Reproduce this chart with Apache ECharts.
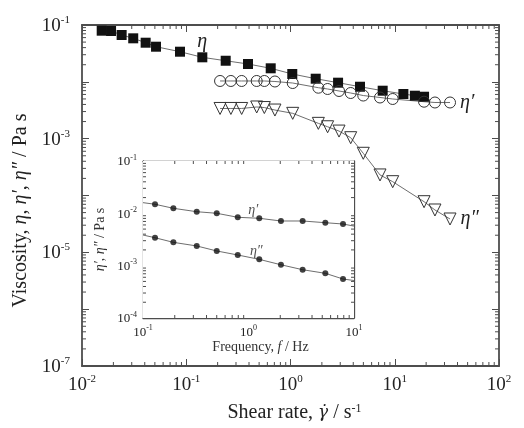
<!DOCTYPE html>
<html><head><meta charset="utf-8">
<script src="https://cdn.jsdelivr.net/npm/echarts@6/dist/echarts.min.js"></script>
<style>html,body{margin:0;padding:0;background:#fff}#c{width:524px;height:428px}</style>
</head><body><div id="c"></div>
<script>
// ---- main chart data (shear rate in s^-1, viscosity in Pa s) ----
const etaShear = [0.01545, 0.019, 0.024, 0.031, 0.0408, 0.0513, 0.0871, 0.1426, 0.239, 0.391, 0.646, 1.04, 1.745, 2.86, 4.64, 7.66, 12.1, 15.6, 19.1];
const etaVals  = [0.0794, 0.0784, 0.0667, 0.0583, 0.0488, 0.0415, 0.0339, 0.027, 0.0235, 0.0206, 0.0173, 0.01374, 0.01135, 0.00966, 0.0082, 0.00698, 0.00611, 0.0057, 0.00547];
const dynShear = [0.211, 0.268, 0.34, 0.474, 0.561, 0.709, 1.05, 1.85, 2.27, 2.92, 3.78, 4.99, 7.22, 9.56, 19.1, 24.3, 33.9];
const etaPrimeVals = [0.01035, 0.01035, 0.01035, 0.01035, 0.01035, 0.01014, 0.00953, 0.00788, 0.00748, 0.0069, 0.00636, 0.00574, 0.0053, 0.00499, 0.00447, 0.00433, 0.00433];
const etaDoublePrimeVals = [0.0034, 0.0034, 0.0034, 0.00361, 0.00353, 0.00319, 0.00279, 0.00186, 0.00162, 0.00136, 0.00104, 0.000553, 0.00023, 0.000175, 7.78e-5, 5.56e-5, 3.86e-5];
// ---- inset data (frequency in Hz) ----
const insetFreq = [0.13, 0.194, 0.323, 0.5, 0.791, 1.265, 2.03, 3.26, 5.35, 7.87];
const insetEtaPrime = [0.0149, 0.01248, 0.01074, 0.01002, 0.0084, 0.00804, 0.00714, 0.00714, 0.00662, 0.00625];
const insetEtaDoublePrime = [0.00342, 0.00279, 0.00238, 0.00191, 0.0016, 0.00132, 0.00104, 0.000837, 0.000714, 0.000556];
const insetEdgeFreq = [0.1, 10];
const insetEdgeEtaPrime = [0.016, 0.0057];
const insetEdgeEtaDoublePrime = [0.00385, 0.00052];
// ---- axis ranges (decade exponents) ----
const mainXExp = [-2, 2];
const mainYExp = [-7, -1];
const insetXExp = [-1, 1];
const insetYExp = [-4, -1];

const FONT = 'Liberation Serif';
const FRAME = '#4d4d4d';
const LINE = '#6e6e6e';

function pairs(xs, ys) { return xs.map((x, i) => [x, ys[i]]); }
function minorValues(exp) {
  const out = [];
  for (let d = exp[0]; d < exp[1]; d++) for (let m = 2; m <= 9; m++) out.push(m * Math.pow(10, d));
  return out;
}
function expOf(v) { return Math.round(Math.log10(v)); }
function powLabel(oddOnly) {
  return function (v) {
    const e = expOf(v);
    if (oddOnly && Math.abs(e) % 2 === 0) return '';
    return '{b|10}{s|' + e + '}';
  };
}
function richFor(size) {
  return {
    b: { fontFamily: FONT, fontSize: size, color: '#222', lineHeight: size + 2, verticalAlign: 'bottom' },
    s: { fontFamily: FONT, fontSize: Math.round(size * 0.6), color: '#222', lineHeight: Math.round(size * 0.6), verticalAlign: 'top' }
  };
}
function logAxis(opts) {
  const o = Object.assign({
    type: 'log', logBase: 10, interval: 1,
    axisLine: { show: true, lineStyle: { color: FRAME, width: opts.frameW || 1.8 } },
    axisTick: { show: true, inside: true, length: opts.tickLen || 7, lineStyle: { color: FRAME, width: 1 } },
    splitLine: { show: false },
    axisLabel: { show: false }
  }, opts);
  delete o.frameW; delete o.tickLen;
  return o;
}
function minorTickSeries(xi, yi, axis, values, ref, len) {
  return {
    type: 'custom', xAxisIndex: xi, yAxisIndex: yi, clip: false, silent: true, z: 4,
    data: values.map(v => axis === 'x' ? [v, ref] : [ref, v]),
    renderItem: function (params, api) {
      const cs = params.coordSys;
      const p = api.coord([api.value(0), api.value(1)]);
      const st = { stroke: FRAME, lineWidth: 1 };
      if (axis === 'x') {
        const x = p[0], yb = cs.y + cs.height, yt = cs.y;
        return { type: 'group', children: [
          { type: 'line', shape: { x1: x, y1: yb, x2: x, y2: yb - len }, style: st },
          { type: 'line', shape: { x1: x, y1: yt, x2: x, y2: yt + len }, style: st }
        ] };
      } else {
        const y = p[1], xl = cs.x, xr = cs.x + cs.width;
        return { type: 'group', children: [
          { type: 'line', shape: { x1: xl, y1: y, x2: xl + len, y2: y }, style: st },
          { type: 'line', shape: { x1: xr, y1: y, x2: xr - len, y2: y }, style: st }
        ] };
      }
    }
  };
}
const etaRich = {
  n: { fontFamily: FONT, fontSize: 20, color: '#222' },
  i: { fontFamily: FONT, fontSize: 20, fontStyle: 'italic', color: '#222' },
  g: { fontFamily: 'DejaVu Serif', fontSize: 17, fontStyle: 'italic', color: '#222' },
  s: { fontFamily: FONT, fontSize: 12, color: '#222', verticalAlign: 'top', lineHeight: 12 }
};
const insetRich = {
  n: { fontFamily: FONT, fontSize: 14, color: '#333' },
  i: { fontFamily: FONT, fontSize: 14, fontStyle: 'italic', color: '#333' }
};
const labelText = (t, size) => ({ show: true, formatter: t, fontFamily: FONT, fontStyle: 'italic', fontSize: size, color: '#222' });

const chart = echarts.init(document.getElementById('c'));
chart.setOption({
  backgroundColor: '#fff',
  animation: false,
  grid: [
    { left: 82, top: 25, width: 417, height: 341, show: false },
    { left: 143, top: 161, width: 211, height: 157, show: true, backgroundColor: '#fff', borderWidth: 0, z: 3 }
  ],
  xAxis: [
    logAxis({ gridIndex: 0, position: 'bottom', min: Math.pow(10, mainXExp[0]), max: Math.pow(10, mainXExp[1]),
      axisLabel: { show: true, margin: 8, formatter: powLabel(false), rich: richFor(19) },
      name: '{n|Shear rate, }{g|γ̇}{n| / s}{s|-1}', nameLocation: 'middle', nameGap: 37,
      nameTextStyle: { rich: etaRich, padding: [0, 0, 0, 8] } }),
    logAxis({ gridIndex: 0, position: 'top', min: Math.pow(10, mainXExp[0]), max: Math.pow(10, mainXExp[1]) }),
    logAxis({ gridIndex: 1, position: 'bottom', min: Math.pow(10, insetXExp[0]), max: Math.pow(10, insetXExp[1]), frameW: 1.3, tickLen: 5,
      axisLabel: { show: true, margin: 6, formatter: powLabel(false), rich: richFor(13) },
      name: '{n|Frequency, }{i|f}{n| / Hz}', nameLocation: 'middle', nameGap: 22,
      nameTextStyle: { rich: insetRich, padding: [0, 0, 0, 24] } }),
    logAxis({ gridIndex: 1, position: 'top', min: Math.pow(10, insetXExp[0]), max: Math.pow(10, insetXExp[1]), frameW: 1.3, tickLen: 5 })
  ],
  yAxis: [
    logAxis({ gridIndex: 0, position: 'left', min: Math.pow(10, mainYExp[0]), max: Math.pow(10, mainYExp[1]),
      axisLabel: { show: true, margin: 12, formatter: powLabel(true), rich: richFor(19) },
      name: '{n|Viscosity, }{i|η}{n|, }{i|η′}{n|, }{i|η″}{n| / Pa s}', nameLocation: 'middle', nameGap: 47,
      nameTextStyle: { rich: etaRich, padding: [0, 30, 0, 0] } }),
    logAxis({ gridIndex: 0, position: 'right', min: Math.pow(10, mainYExp[0]), max: Math.pow(10, mainYExp[1]) }),
    logAxis({ gridIndex: 1, position: 'left', min: Math.pow(10, insetYExp[0]), max: Math.pow(10, insetYExp[1]), frameW: 1.3, tickLen: 5,
      axisLabel: { show: true, margin: 6, formatter: powLabel(false), rich: richFor(13) },
      name: '{i|η′}{n|, }{i|η″}{n| / Pa s}', nameLocation: 'middle', nameGap: 36,
      nameTextStyle: { rich: insetRich } }),
    logAxis({ gridIndex: 1, position: 'right', min: Math.pow(10, insetYExp[0]), max: Math.pow(10, insetYExp[1]), frameW: 1.3, tickLen: 5 })
  ],
  series: [
    minorTickSeries(0, 0, 'x', minorValues(mainXExp), Math.pow(10, mainYExp[0]), 4),
    minorTickSeries(0, 0, 'y', minorValues(mainYExp), Math.pow(10, mainXExp[0]), 4),
    minorTickSeries(2, 2, 'x', minorValues(insetXExp), Math.pow(10, insetYExp[0]), 3),
    minorTickSeries(2, 2, 'y', minorValues(insetYExp), Math.pow(10, insetXExp[0]), 3),
    {
      name: 'eta', type: 'line', xAxisIndex: 0, yAxisIndex: 0, z: 6,
      data: pairs(etaShear, etaVals).map((p, i) => i === 7 ? { value: p, label: Object.assign(labelText('η', 20), { position: 'top', distance: 1 }) } : p),
      symbol: 'rect', symbolSize: 10,
      itemStyle: { color: '#111', borderColor: '#111', borderWidth: 0 },
      lineStyle: { color: LINE, width: 1 }
    },
    {
      name: "eta'", type: 'line', xAxisIndex: 0, yAxisIndex: 0, z: 6,
      data: pairs(dynShear, etaPrimeVals).map((p, i, a) => i === a.length - 1 ? { value: p, label: Object.assign(labelText('η′', 20), { position: 'right', distance: 4 }) } : p),
      symbol: 'circle', symbolSize: 11,
      itemStyle: { color: 'rgba(255,255,255,0)', borderColor: '#333', borderWidth: 1 },
      lineStyle: { color: LINE, width: 1 }
    },
    {
      name: "eta''", type: 'line', xAxisIndex: 0, yAxisIndex: 0, z: 6,
      data: pairs(dynShear, etaDoublePrimeVals).map((p, i, a) => i === a.length - 1 ? { value: p, label: Object.assign(labelText('η″', 20), { position: 'right', distance: 4 }) } : p),
      symbol: 'triangle', symbolRotate: 180, symbolSize: 12,
      itemStyle: { color: 'rgba(255,255,255,0)', borderColor: '#333', borderWidth: 1 },
      lineStyle: { color: LINE, width: 1 }
    },
    {
      name: "inset eta' fit", type: 'line', xAxisIndex: 2, yAxisIndex: 2, z: 6, showSymbol: false, silent: true,
      data: [[insetEdgeFreq[0], insetEdgeEtaPrime[0]]].concat(pairs(insetFreq, insetEtaPrime), [[insetEdgeFreq[1], insetEdgeEtaPrime[1]]]),
      lineStyle: { color: LINE, width: 1 }
    },
    {
      name: "inset eta'' fit", type: 'line', xAxisIndex: 2, yAxisIndex: 2, z: 6, showSymbol: false, silent: true,
      data: [[insetEdgeFreq[0], insetEdgeEtaDoublePrime[0]]].concat(pairs(insetFreq, insetEtaDoublePrime), [[insetEdgeFreq[1], insetEdgeEtaDoublePrime[1]]]),
      lineStyle: { color: LINE, width: 1 }
    },
    {
      name: "inset eta'", type: 'scatter', xAxisIndex: 2, yAxisIndex: 2, z: 7, symbolSize: 6,
      data: pairs(insetFreq, insetEtaPrime).map((p, i) => i === 5 ? { value: p, label: Object.assign(labelText('η′', 14), { position: 'top', distance: 0, offset: [-6, 2] }) } : p),
      itemStyle: { color: '#111' }
    },
    {
      name: "inset eta''", type: 'scatter', xAxisIndex: 2, yAxisIndex: 2, z: 7, symbolSize: 6,
      data: pairs(insetFreq, insetEtaDoublePrime).map((p, i) => i === 5 ? { value: p, label: Object.assign(labelText('η″', 14), { position: 'top', distance: 0, offset: [-3, 2] }) } : p),
      itemStyle: { color: '#111' }
    }
  ]
});
</script></body></html>
